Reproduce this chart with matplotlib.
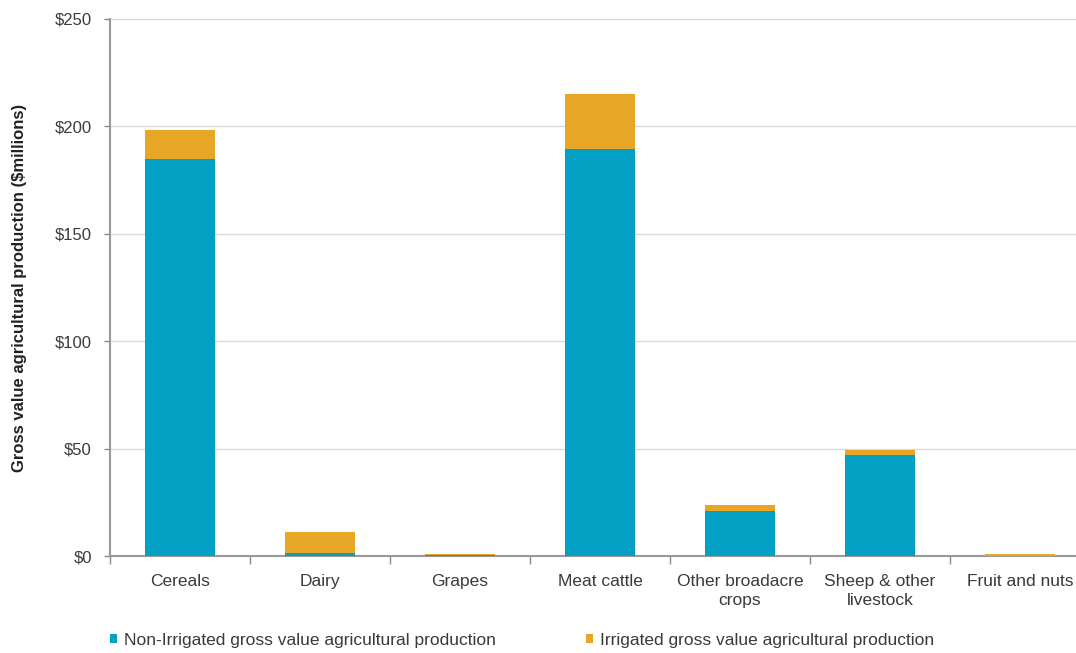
import matplotlib
matplotlib.use("Agg")
import matplotlib.pyplot as plt
import numpy as np

plt.rcParams['font.family'] = ['Liberation Sans', 'DejaVu Sans']

categories = ["Cereals", "Dairy", "Grapes", "Meat cattle", "Other broadacre\ncrops",
              "Sheep & other\nlivestock", "Fruit and nuts"]
non_irrigated = [185.0, 1.2, 0.3, 189.5, 21.0, 47.0, 0.2]
irrigated = [13.3, 10.0, 0.5, 25.5, 2.7, 2.3, 0.6]
series_labels = ["Non-Irrigated gross value agricultural production",
                 "Irrigated gross value agricultural production"]
y_ticks = [0, 50, 100, 150, 200, 250]

blue = "#03A0C4"
orange = "#E7A626"

W, H = 1076, 653
fig = plt.figure(figsize=(W / 100, H / 100), dpi=100)
ax = fig.add_axes([110 / W, 1 - 556 / H, 980 / W, (556 - 19) / H])

x = np.arange(len(categories))
b1 = ax.bar(x, non_irrigated, width=0.5, color=blue, label=series_labels[0], zorder=3)
b2 = ax.bar(x, irrigated, width=0.5, bottom=non_irrigated, color=orange,
            label=series_labels[1], zorder=3)

ax.set_xlim(-0.5, len(categories) - 0.5)
ax.set_ylim(0, 250)
ax.set_yticks(y_ticks)
ax.set_yticklabels([f"${v}" for v in y_ticks])
ax.yaxis.grid(True, color="#DADADA", linewidth=1, zorder=0)
ax.tick_params(axis="y", length=4, width=1, color="#888888", pad=9,
               labelsize=12, labelcolor="#3a3a3a")

ax.set_xticks(x)
ax.set_xticklabels(categories, linespacing=1.3)
ax.set_xticks(np.arange(len(categories)) - 0.5, minor=True)
ax.tick_params(axis="x", which="major", length=0, pad=13, labelsize=12.5,
               labelcolor="#3a3a3a")
ax.tick_params(axis="x", which="minor", length=6, width=1, color="#888888")

for side in ("top", "right"):
    ax.spines[side].set_visible(False)
for side in ("left", "bottom"):
    ax.spines[side].set_color("#999999")
    ax.spines[side].set_linewidth(1.5)

ax.set_ylabel("Gross value agricultural production ($millions)", fontsize=12,
              fontweight="bold", color="#222222", labelpad=20)

fig.legend(handles=[b1, b2], loc="center left",
           bbox_to_anchor=(94 / W, 1 - 640 / H), ncol=2, frameon=False,
           fontsize=12.5, handlelength=0.45, handleheight=0.45, handletextpad=0.35,
           columnspacing=5.2, labelcolor="#3a3a3a")

fig.savefig("out.png", dpi=100)
